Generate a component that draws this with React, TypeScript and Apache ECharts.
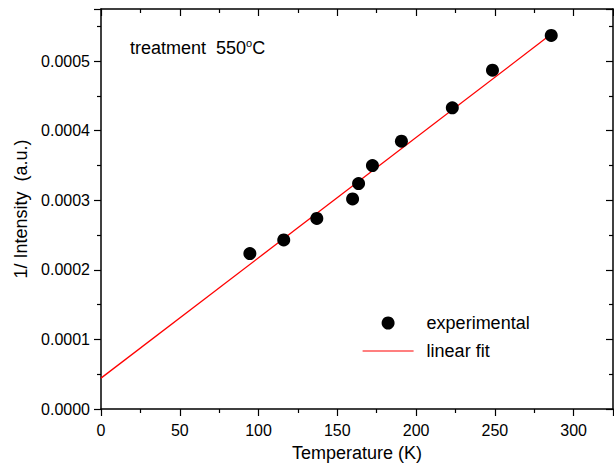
import React, { useEffect, useRef } from "react";
import * as echarts from "echarts";

const temperatures = [94.5, 116, 137, 159.7, 163.5, 172.3, 190.7, 223, 248.5, 285.8];
const inverseIntensity = [0.0002235, 0.000243, 0.000274, 0.000302, 0.000324, 0.00035, 0.000385, 0.000433, 0.000487, 0.000537];
const fitX = [0, 286.5];
const fitY = [0.0000444, 0.00054];

const FONT = "'Liberation Sans', Arial, Helvetica, sans-serif";

export default function App() {
  const ref = useRef<HTMLDivElement>(null);
  useEffect(() => {
    if (!ref.current) return;
    const chart = echarts.init(ref.current, null, { renderer: "svg" });
    const scatterData = temperatures.map((t, i) => [t, inverseIntensity[i]]);
    const fitData = fitX.map((x, i) => [x, fitY[i]]);
    const axisLine = { show: true, onZero: false, lineStyle: { color: "#000", width: 1.5 } };
    chart.setOption({
      animation: false,
      backgroundColor: "#fff",
      grid: { left: 101, right: 1, top: 9, bottom: 57, containLabel: false },
      xAxis: [
        {
          type: "value",
          min: 0,
          max: 325,
          interval: 50,
          position: "bottom",
          axisLine,
          axisTick: { show: true, inside: false, length: 7, lineStyle: { color: "#000", width: 1.2 } },
          minorTick: { show: true, splitNumber: 2, length: 4, lineStyle: { color: "#000", width: 1.2 } },
          splitLine: { show: false },
          axisLabel: { color: "#000", fontSize: 16, fontFamily: FONT, margin: 13, showMaxLabel: false },
          name: "Temperature (K)",
          nameLocation: "middle",
          nameGap: 35,
          nameTextStyle: { color: "#000", fontSize: 18, fontFamily: FONT },
        },
        {
          type: "value",
          min: 0,
          max: 325,
          interval: 50,
          position: "top",
          axisLine,
          axisTick: { show: true, inside: true, length: 7, lineStyle: { color: "#000", width: 1.2 } },
          minorTick: { show: true, splitNumber: 2, length: 4, lineStyle: { color: "#000", width: 1.2 } },
          splitLine: { show: false },
          axisLabel: { show: false },
        },
      ],
      yAxis: [
        {
          type: "value",
          min: 0,
          max: 0.000575,
          interval: 0.0001,
          position: "left",
          axisLine,
          axisTick: { show: true, inside: false, length: 7, lineStyle: { color: "#000", width: 1.2 } },
          minorTick: { show: true, splitNumber: 2, length: 4, lineStyle: { color: "#000", width: 1.2 } },
          splitLine: { show: false },
          axisLabel: {
            color: "#000",
            fontSize: 16,
            fontFamily: FONT,
            margin: 11,
            showMaxLabel: false,
            formatter: (v: number) => v.toFixed(4),
          },
          name: "1/ Intensity  (a.u.)",
          nameLocation: "middle",
          nameGap: 70,
          nameTextStyle: { color: "#000", fontSize: 18, fontFamily: FONT },
        },
        {
          type: "value",
          min: 0,
          max: 0.000575,
          interval: 0.0001,
          position: "right",
          axisLine,
          axisTick: { show: true, inside: true, length: 7, lineStyle: { color: "#000", width: 1.2 } },
          minorTick: { show: true, splitNumber: 2, length: 4, lineStyle: { color: "#000", width: 1.2 } },
          splitLine: { show: false },
          axisLabel: { show: false },
        },
      ],
      legend: {
        orient: "vertical",
        left: 357,
        top: 309,
        itemWidth: 51,
        itemHeight: 13,
        itemGap: 10,
        textStyle: { color: "#000", fontSize: 18, fontFamily: FONT, lineHeight: 18, padding: [0, 0, 0, 8] },
        data: [
          { name: "experimental" },
          { name: "linear fit", itemStyle: { opacity: 0 }, lineStyle: { color: "#ff0000", width: 1.2 } },
        ],
      },
      graphic: [
        {
          type: "text",
          left: 130,
          top: 37,
          style: {
            text: "{a|treatment  550}{b|o}{a|C}",
            rich: {
              a: { fontSize: 18, fontFamily: FONT, fill: "#000", lineHeight: 22 },
              b: { fontSize: 11, fontFamily: FONT, fill: "#000", verticalAlign: "top", lineHeight: 12 },
            },
          },
        },
      ],
      series: [
        {
          name: "linear fit",
          type: "line",
          data: fitData,
          showSymbol: false,
          symbol: "none",
          lineStyle: { color: "#ff0000", width: 1.3 },
          itemStyle: { color: "#ff0000" },
          z: 2,
        },
        {
          name: "experimental",
          type: "scatter",
          data: scatterData,
          symbol: "circle",
          symbolSize: 13,
          itemStyle: { color: "#000", opacity: 1 },
          z: 3,
        },
      ],
    });
    return () => chart.dispose();
  }, []);
  return <div ref={ref} style={{ width: 614, height: 467, position: "absolute", left: 0, top: 0 }} />;
}
